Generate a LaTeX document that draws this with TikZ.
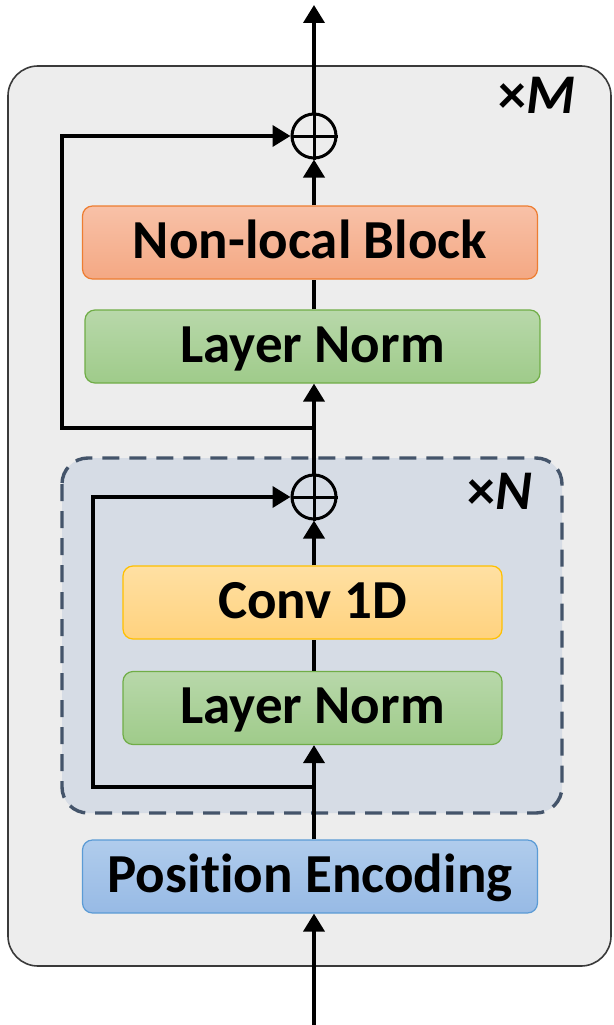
\documentclass[tikz,border=0pt]{standalone}
\usepackage{fontspec}
\setmainfont[Ligatures={NoCommon}]{Carlito}
\usetikzlibrary{arrows.meta}
\definecolor{outerfill}{HTML}{EDEDED}
\definecolor{outerdraw}{HTML}{3A3A3A}
\definecolor{innerfill}{HTML}{D6DCE5}
\definecolor{innerdraw}{HTML}{44546A}
\definecolor{nltop}{HTML}{F8C1A8}
\definecolor{nlbot}{HTML}{F4A883}
\definecolor{nldraw}{HTML}{ED7D31}
\definecolor{lntop}{HTML}{B8D8AA}
\definecolor{lnbot}{HTML}{9FCB8A}
\definecolor{lndraw}{HTML}{70AD47}
\definecolor{cvtop}{HTML}{FFE0A3}
\definecolor{cvbot}{HTML}{FFD27E}
\definecolor{cvdraw}{HTML}{FFC000}
\definecolor{petop}{HTML}{B0CCEC}
\definecolor{pebot}{HTML}{97BAE5}
\definecolor{pedraw}{HTML}{5B9BD5}
\tikzset{
  blockbox/.style={rounded corners=10pt, line width=1.2pt, font=\fontsize{55}{60}\selectfont\bfseries, inner sep=0pt, minimum height=73pt, text height=36pt, text depth=5pt},
  nlbox/.style={blockbox, draw=nldraw, top color=nltop, bottom color=nlbot, minimum width=455pt},
  lnbox/.style={blockbox, draw=lndraw, top color=lntop, bottom color=lnbot},
  cvbox/.style={blockbox, draw=cvdraw, top color=cvtop, bottom color=cvbot, minimum width=379pt},
  pebox/.style={blockbox, draw=pedraw, top color=petop, bottom color=pebot, minimum width=455pt},
  plusnode/.style={circle, draw, line width=3pt, minimum size=44pt, inner sep=0pt},
  flow/.style={line width=3.8pt, -{Triangle[length=18pt,width=21pt]}},
  plain/.style={line width=3.8pt},
  rep/.style={font=\fontsize{56}{60}\selectfont\bfseries, inner sep=0pt}
}
\begin{document}
\begin{tikzpicture}[x=1pt,y=-1pt]
\useasboundingbox (0,0) rectangle (613,1025);
% outer container
\draw[fill=outerfill, draw=outerdraw, line width=1.6pt, rounded corners=30pt] (8,66) rectangle (611,966);
% inner dashed container
\draw[fill=innerfill, draw=innerdraw, line width=3.4pt, dash pattern=on 17pt off 10pt, rounded corners=26pt] (62,458) rectangle (562,813);
\node[rep, anchor=base east] (xm) at (576,113) {×\textit{M}};
\node[rep, anchor=base east] (xn) at (532,509) {×\textit{N}};
% blocks
\node[nlbox] (nl) at (310,242.5) {Non-local Block};
\node[lnbox, minimum width=455pt] (ln1) at (312.5,346.5) {Layer Norm};
\node[cvbox] (cv) at (312.5,602.5) {Conv 1D};
\node[lnbox, minimum width=379pt] (ln2) at (312.5,708) {Layer Norm};
\node[pebox] (pe) at (310,876.5) {Position Encoding};
% adders
\node[plusnode] (p1) at (314,136) {};
\node[plusnode] (p2) at (314,497) {};
\draw[line width=3pt] (p1.north) -- (p1.south) (p1.west) -- (p1.east);
\draw[line width=3pt] (p2.north) -- (p2.south) (p2.west) -- (p2.east);
% coordinates
\coordinate (in) at (314,1025);
\coordinate (out) at (314,5);
\coordinate (s2) at (314,787);
\coordinate (s1) at (314,428);
% connectors
\draw[flow] (in) -- (pe.south -| in);
\draw[flow] (pe.north -| in) -- (ln2.south -| in);
\draw[plain] (ln2.north -| in) -- (cv.south -| in);
\draw[flow] (cv.north -| in) -- (p2.south);
\draw[flow] (s2) -- (93,787) -- (93,497) -- (p2.west);
\draw[flow] (p2.north) -- (ln1.south -| in);
\draw[plain] (ln1.north -| in) -- (nl.south -| in);
\draw[flow] (nl.north -| in) -- (p1.south);
\draw[flow] (s1) -- (62,428) -- (62,136) -- (p1.west);
\draw[flow] (p1.north) -- (out);
\end{tikzpicture}
\end{document}
